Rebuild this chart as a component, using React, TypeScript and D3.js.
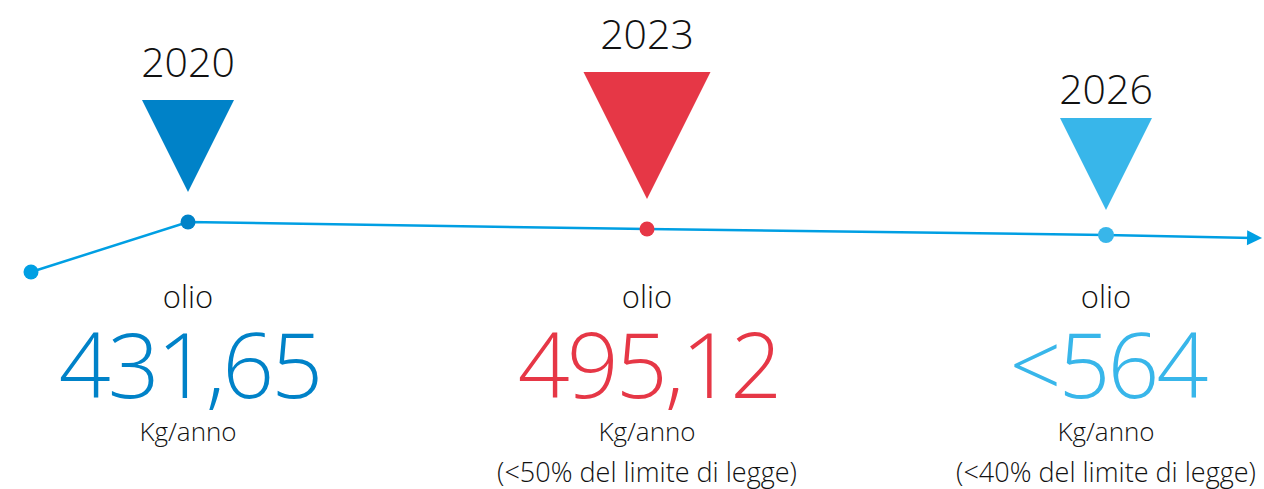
import React from 'react';
import * as d3 from 'd3';

// timeline milestones
const years = [2020, 2023, 2026];
const values = ['431,65', '495,12', '<564'];
const notes = ['', '(<50% del limite di legge)', '(<40% del limite di legge)'];
const colors = ['#0082c8', '#e63746', '#38b6ea'];
const markerSizes = [92, 127, 92];
// relative height of the trend line at each milestone (start year first)
const trendYears = [2019, 2020, 2023, 2026, 2027.02];
const trendLevels = [0, 1, 0.86, 0.74, 0.68];

const W = 1264;
const H = 489;
const LINE = '#009fe3';
const FONT = "'Open Sans', 'Noto Sans', sans-serif";

const App = () => {
  const x = d3.scaleLinear().domain([2020, 2026]).range([188, 1106]);
  const y = d3.scaleLinear().domain([0, 1]).range([272, 222]);

  const pts: [number, number][] = trendYears.map((yr, i) => [x(yr) - (i === 0 ? 4 : 0), y(trendLevels[i])]);
  const line = d3.line()(pts.slice(0, -1).concat([[pts[pts.length - 1][0] - 10, pts[pts.length - 1][1]]]));
  const end = pts[pts.length - 1];
  const prev = pts[pts.length - 2];
  const ang = Math.atan2(end[1] - prev[1], end[0] - prev[0]) * 180 / Math.PI;

  return (
    <svg width={W} height={H} style={{ position: 'absolute', left: 0, top: 0, background: '#fff' }}>
      <path d={line || ''} fill="none" stroke={LINE} strokeWidth={2.5} />
      <path d="M0,0 L-15,-7.5 L-15,7.5 Z" fill={LINE} transform={`translate(${end[0]},${end[1]}) rotate(${ang})`} />
      <circle cx={pts[0][0]} cy={pts[0][1]} r={7.5} fill={LINE} />
      {years.map((yr, i) => {
        const cx = x(yr);
        const cy = y(trendLevels[i + 1]);
        const s = markerSizes[i];
        const tip = cy - (i === 2 ? 25 : 30);
        const top = tip - s;
        return (
          <g key={yr}>
            <text x={cx} y={top - (i === 2 ? 14 : 23)} textAnchor="middle" fontFamily={FONT} fontWeight={350} fontSize={41} fill="#111">{yr}</text>
            <path d={`M${cx - s / 2},${top} L${cx + s / 2},${top} L${cx},${tip} Z`} fill={colors[i]} />
            <circle cx={cx} cy={cy} r={i === 2 ? 8 : 7.5} fill={colors[i]} />
            <text x={cx} y={308} textAnchor="middle" fontFamily={FONT} fontWeight={300} fontSize={31} fill="#111">olio</text>
            <text x={cx + 1.5} y={398} textAnchor="middle" fontFamily={FONT} fontWeight={300} fontSize={91} letterSpacing={-3} fill={colors[i]}>{values[i]}</text>
            <text x={cx} y={441} textAnchor="middle" fontFamily={FONT} fontWeight={300} fontSize={26} fill="#111">Kg/anno</text>
            {notes[i] && (
              <text x={cx} y={482} textAnchor="middle" fontFamily={FONT} fontWeight={300} fontSize={27} fill="#111">{notes[i]}</text>
            )}
          </g>
        );
      })}
    </svg>
  );
};

export default App;
